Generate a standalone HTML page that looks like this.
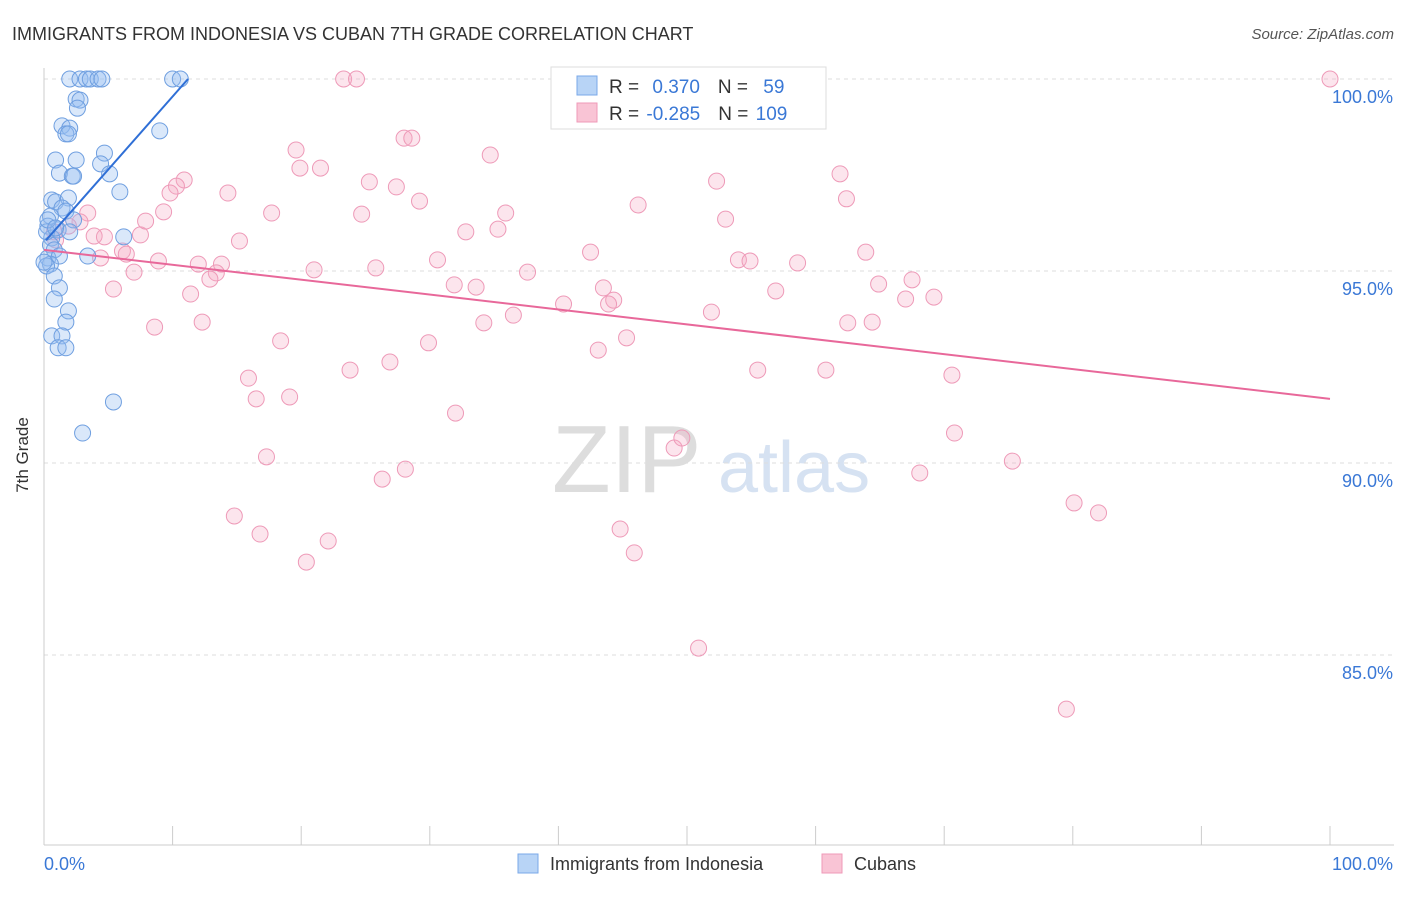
<!DOCTYPE html>
<html><head><meta charset="utf-8"><style>
body{margin:0;background:#fff;font-family:"Liberation Sans",sans-serif;}
svg text{font-family:"Liberation Sans",sans-serif;}
</style></head><body>
<svg id="c" width="1406" height="892">
<text x="12" y="40" font-size="18" fill="#333">IMMIGRANTS FROM INDONESIA VS CUBAN 7TH GRADE CORRELATION CHART</text>
<text x="1394" y="39" font-size="15" fill="#555" font-style="italic" text-anchor="end">Source: ZipAtlas.com</text>
<text x="28" y="455" font-size="17" fill="#333" transform="rotate(-90 28 455)" text-anchor="middle">7th Grade</text>
<g>
<text x="552" y="492" font-size="96" fill="#ddd" font-family="Liberation Serif">ZIP</text>
<text x="718" y="492" font-size="72" fill="#d6e2f2">atlas</text>
</g>
<g id="grid"></g><g id="marks"></g>
<g>
<rect x="551" y="67" width="275" height="62" fill="#fff" stroke="#ddd"/>
<rect x="577" y="76" width="20" height="19" fill="#b8d4f6" stroke="#7aa8e8"/>
<rect x="577" y="103" width="20" height="19" fill="#f9c4d5" stroke="#ef9ab8"/>
<text x="609" y="93" font-size="19" fill="#333">R = <tspan fill="#3a78d6" dx="8">0.370</tspan><tspan dx="18" fill="#333">N = </tspan><tspan fill="#3a78d6" dx="10">59</tspan></text>
<text x="609" y="120" font-size="19" fill="#333">R = <tspan fill="#3a78d6" dx="2">-0.285</tspan><tspan dx="18" fill="#333">N = </tspan><tspan fill="#3a78d6" dx="2">109</tspan></text>
</g>
<g>
<rect x="518" y="854" width="20" height="19" fill="#b8d4f6" stroke="#7aa8e8"/>
<text x="550" y="870" font-size="18" fill="#333">Immigrants from Indonesia</text>
<rect x="822" y="854" width="20" height="19" fill="#f9c4d5" stroke="#ef9ab8"/>
<text x="854" y="870" font-size="18" fill="#333">Cubans</text>
</g>
</svg>
<script>
const blueX=[2.0,2.8,3.3,3.6,4.2,4.5,10.0,10.6,2.5,2.8,2.6,1.4,2.0,1.7,1.9,0.9,2.5,4.7,4.4,1.2,2.2,2.3,5.1,5.9,0.6,0.9,1.9,1.4,1.7,0.5,2.3,0.3,1.1,2.0,0.6,6.2,0.5,0.8,0.3,1.2,3.4,0.5,0.2,0.8,1.2,0.8,1.9,1.7,0.6,1.4,1.1,1.7,5.4,3.0,9.0,0.2,0.3,0.9,0];
const blueY=[100,100,100,100,100,100,100,100,99.48,99.45,99.24,98.78,98.72,98.57,98.57,97.89,97.89,98.07,97.79,97.55,97.47,97.47,97.53,97.06,96.85,96.80,96.90,96.64,96.56,96.43,96.33,96.17,96.07,96.02,95.86,95.89,95.68,95.55,95.34,95.39,95.39,95.18,95.13,94.87,94.56,94.27,93.96,93.67,93.31,93.31,93.0,93.0,91.59,90.78,98.65,96.02,96.33,96.12,95.23];
const pinkX=[100,23.3,24.3,28.0,28.6,19.6,34.7,19.9,21.5,25.3,27.4,10.9,10.3,9.8,14.3,29.2,46.2,52.3,61.9,62.4,3.4,9.3,17.7,24.7,35.9,53.0,2.8,1.9,0.8,3.9,4.7,7.5,7.9,15.2,32.8,35.3,0.9,6.1,6.4,4.4,8.9,12.0,13.8,42.5,54.0,54.9,58.6,63.9,7.0,13.4,12.9,21.0,25.8,30.6,37.6,67.5,64.9,31.9,33.6,43.5,44.3,43.9,5.4,11.4,40.4,56.9,67.0,69.2,36.5,51.9,34.2,62.5,64.4,8.6,12.3,18.4,29.9,45.3,43.1,26.9,23.8,55.5,60.8,70.6,15.9,16.5,19.1,32.0,49.0,49.6,70.8,17.3,28.1,26.3,75.3,68.1,14.8,16.8,22.1,20.4,44.8,45.9,80.1,82.0,50.9,79.5];
const pinkY=[100,100,100,98.46,98.46,98.15,98.02,97.68,97.68,97.32,97.19,97.37,97.21,97.03,97.03,96.82,96.72,97.34,97.53,96.88,96.51,96.54,96.51,96.48,96.51,96.35,96.28,96.17,96.02,95.91,95.89,95.94,96.30,95.78,96.02,96.09,95.81,95.52,95.44,95.34,95.26,95.18,95.18,95.49,95.29,95.26,95.21,95.49,94.97,94.95,94.79,95.03,95.08,95.29,94.97,94.77,94.66,94.64,94.58,94.56,94.24,94.14,94.53,94.40,94.14,94.48,94.27,94.32,93.85,93.93,93.65,93.65,93.67,93.54,93.67,93.18,93.13,93.26,92.94,92.63,92.42,92.42,92.42,92.29,92.21,91.67,91.72,91.30,90.39,90.65,90.78,90.16,89.84,89.58,90.05,89.74,88.62,88.15,87.97,87.42,88.28,87.66,88.96,88.70,85.18,83.59];
const blueTrendX=[0.15,11.2], blueTrendY=[95.8,100];
const pinkTrendX=[0,100], pinkTrendY=[95.55,91.67];
const yTicks=[100,95,90,85], yTickLabels=["100.0%","95.0%","90.0%","85.0%"];
const xTicks=[0,10,20,30,40,50,60,70,80,90,100];
const X=v=>44+v*12.86, Y=v=>79+(100-v)*38.4;
const NS="http://www.w3.org/2000/svg";
function mk(t,a,p){const e=document.createElementNS(NS,t);for(const k in a)e.setAttribute(k,a[k]);p.appendChild(e);return e;}
const g=document.getElementById('grid'), m=document.getElementById('marks');
yTicks.forEach((t,i)=>{
 const l=mk('line',{x1:44,x2:1394,y1:Y(t),y2:Y(t),stroke:'#ddd','stroke-dasharray':'4 4'},g);
 
 
 const tx=mk('text',{x:1393,y:Y(t)+24,'font-size':18,fill:'#3a78d6','text-anchor':'end'},g);
 tx.textContent=yTickLabels[i];
 
 
});
const ax=mk('line',{x1:44,x2:44,y1:68,y2:845,stroke:'#ccc'},g);


const bx=mk('line',{x1:44,x2:1394,y1:845,y2:845,stroke:'#ccc'},g);


xTicks.forEach(t=>{const l=mk('line',{x1:X(t),x2:X(t),y1:826,y2:845,stroke:'#ccc'},g);
 
 });
[["0.0%",44,'start'],["100.0%",1393,'end']].forEach(a=>{const t=mk('text',{x:a[1],y:870,'font-size':18,fill:'#3a78d6','text-anchor':a[2]},g);t.textContent=a[0];
 
 });
pinkX.forEach((x,i)=>{const c=mk('circle',{cx:X(x),cy:Y(pinkY[i]),r:8,fill:'rgba(246,170,196,0.3)',stroke:'#ee9ab8','stroke-width':1},m);
 
 });
blueX.forEach((x,i)=>{const c=mk('circle',{cx:X(x),cy:Y(blueY[i]),r:8,fill:'rgba(150,190,240,0.35)',stroke:'#6f9fe0','stroke-width':1},m);
 
 });
const pl=mk('line',{x1:X(pinkTrendX[0]),y1:Y(pinkTrendY[0]),x2:X(pinkTrendX[1]),y2:Y(pinkTrendY[1]),stroke:'#e8689a','stroke-width':2},m);


const bl=mk('line',{x1:X(blueTrendX[0]),y1:Y(blueTrendY[0]),x2:X(blueTrendX[1]),y2:Y(blueTrendY[1]),stroke:'#2f6fd6','stroke-width':2},m);


</script>
</body></html>
